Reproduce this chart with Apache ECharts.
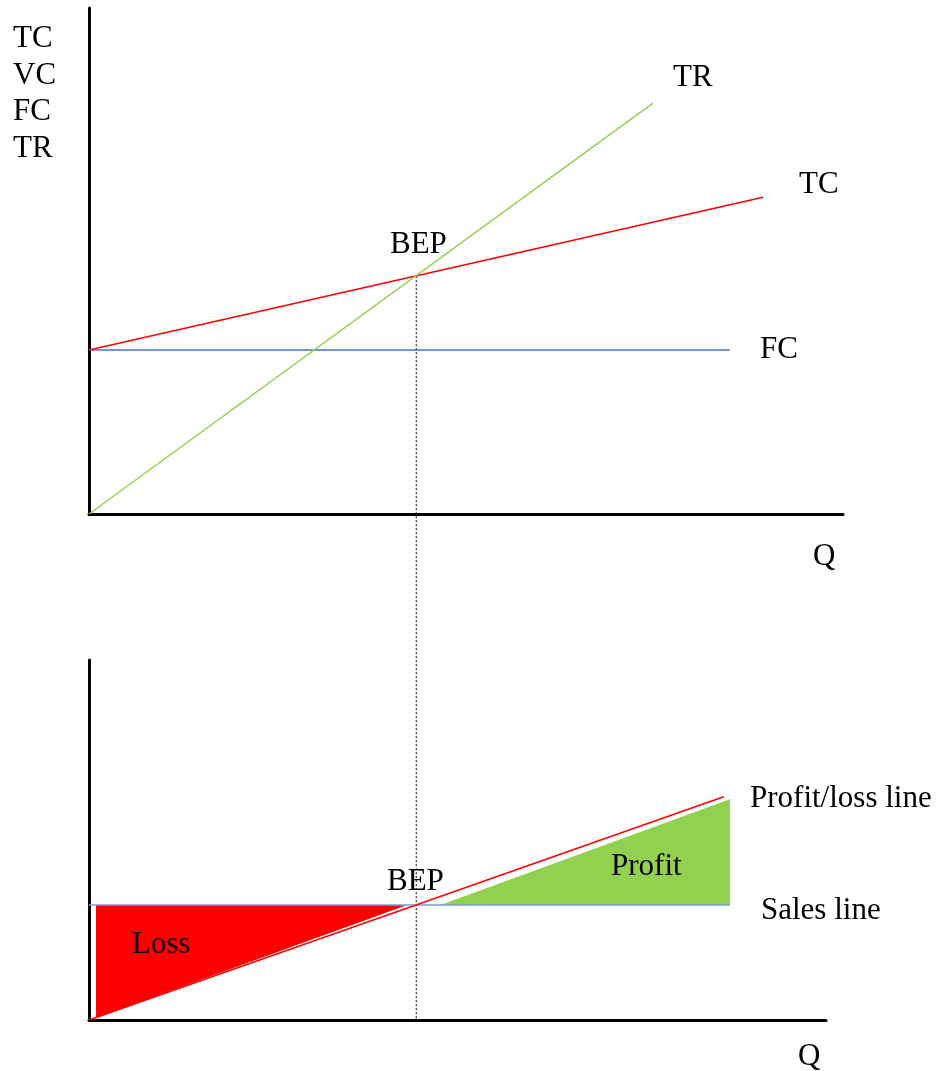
<!DOCTYPE html>
<html>
<head>
<meta charset="utf-8">
<script src="https://cdn.jsdelivr.net/npm/echarts@6/dist/echarts.min.js"></script>
<style>html,body{margin:0;padding:0;background:#fff}#c{width:939px;height:1071px}</style>
</head>
<body>
<div id="c"></div>
<script>
// ---- Data (arbitrary units) ----
// Top panel: cost / revenue vs quantity
const fcLine = [[0, 32.4], [85.0, 32.4]];          // fixed cost
const tcLine = [[0, 32.4], [89.4, 62.6]];          // total cost
const trLine = [[0, 0], [74.8, 81.2]];             // total revenue
const bepPoint = [43.4, 47.0];                     // break-even point
// Bottom panel: profit / loss vs quantity
const salesLine = [[0, 0], [85.0, 0]];
const profitLossLine = [[0, -32.4], [84.2, 30.5]];
const lossArea = [[0.93, 0], [42.2, 0], [0.4, -32.2], [0.93, -31.8]];
const profitArea = [[46.6, 0], [85.0, 0], [85.0, 29.8]];
// Axis ranges
const topX = [0, 100], topY = [0, 100];
const botX = [0, 97.75], botY = [-32.4, 69.0];
// Text labels
const yAxisTitle = ['TC', 'VC', 'FC', 'TR'];

const FONT = '31px "Liberation Serif", "Times New Roman", serif';
const chart = echarts.init(document.getElementById('c'), null, {renderer: 'canvas'});

function axis(range, extra) {
  return Object.assign({
    type: 'value', min: range[0], max: range[1],
    axisLine: {show: true, onZero: false, lineStyle: {color: '#000', width: 3}},
    axisTick: {show: false}, axisLabel: {show: false}, splitLine: {show: false}
  }, extra);
}
function lineSeries(data, color, xi) {
  return {type: 'line', data: data, xAxisIndex: xi, yAxisIndex: xi, symbol: 'none',
    silent: true, animation: false, lineStyle: {color: color, width: 1.5}, z: 5};
}
function polySeries(points, color, xi) {
  return {type: 'custom', xAxisIndex: xi, yAxisIndex: xi, data: points, animation: false, silent: true, z: 3,
    renderItem: function (params, api) {
      if (params.dataIndex !== 0) return null;
      return {type: 'polygon', shape: {points: points.map(p => api.coord(p))}, style: {fill: color}};
    }};
}
function label(text, x, y) {
  return {type: 'text', x: x, y: y, z: 100, silent: true,
    style: {text: text, font: FONT, fill: '#000', align: 'left', verticalAlign: 'middle'}};
}

chart.setOption({
  animation: false,
  grid: [
    {left: 89, top: 8, width: 754, height: 506},
    {left: 89, top: 660, width: 737, height: 360}
  ],
  xAxis: [axis(topX, {gridIndex: 0}), axis(botX, {gridIndex: 1})],
  yAxis: [axis(topY, {gridIndex: 0}), axis(botY, {gridIndex: 1})],
  series: [
    lineSeries(fcLine, '#4472C4', 0),
    lineSeries(tcLine, '#FF0000', 0),
    lineSeries(trLine, '#92D050', 0),
    {
      type: 'custom', xAxisIndex: 0, yAxisIndex: 0, data: [bepPoint], clip: false, animation: false, silent: true, z: 2,
      renderItem: function (params, api) {
        const p1 = api.coord(bepPoint);
        let p2;
        try { p2 = chart.convertToPixel({gridIndex: 1}, [bepPoint[0], botY[0]]); } catch (e) { p2 = null; }
        if (!p2) p2 = [p1[0], 1020];
        return {type: 'line', shape: {x1: p1[0], y1: p1[1], x2: p1[0], y2: p2[1]},
          style: {stroke: '#000', lineWidth: 1, lineDash: [2, 2]}};
      }
    },
    polySeries(lossArea, '#FF0000', 1),
    polySeries(profitArea, '#92D050', 1),
    lineSeries(salesLine, '#7A9CD6', 1),
    lineSeries(profitLossLine, '#FF0000', 1)
  ],
  graphic: [
    {type: 'text', x: 13, y: 21, z: 100, silent: true,
      style: {text: yAxisTitle.join('\n'), font: FONT, lineHeight: 36.5, fill: '#000', align: 'left', verticalAlign: 'top'}},
    label('TR', 673, 78),
    label('TC', 799, 185),
    label('FC', 760, 350),
    label('BEP', 390, 245),
    label('Q', 813, 557),
    label('Profit/loss line', 750, 799),
    label('Profit', 611, 867),
    label('Sales line', 761, 911),
    label('BEP', 387, 882),
    label('Loss', 132, 945),
    label('Q', 798, 1057)
  ]
});
</script>
</body>
</html>
